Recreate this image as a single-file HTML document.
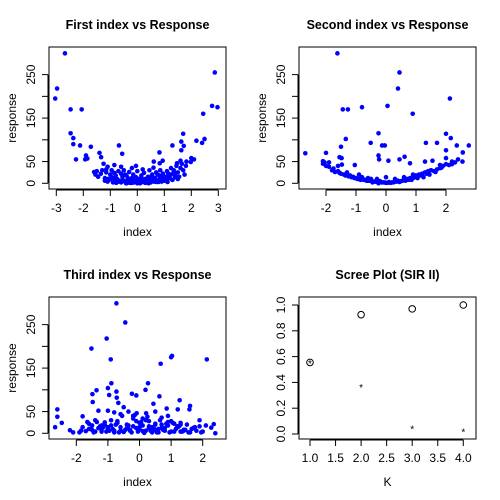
<!DOCTYPE html>
<html><head><meta charset="utf-8">
<style>
html,body{margin:0;padding:0;background:#fff;}
svg{display:block;font-family:"Liberation Sans",sans-serif;}
</style></head>
<body>
<svg id="chart" width="500" height="500" viewBox="0 0 500 500">
<rect width="500" height="500" fill="#fff"/>
</svg>
<script>
// ---- data: panel 1 (First index vs Response) ----
const p1x = [-2.68,-2.97,-3.04,-2.47,-2.06,-2.47,-2.37,-2.37,-2.12,-1.72,-2.27,-1.9,-1.85,-1.93,-1.4,-1.34,-0.68,-0.56,0.82,0.94,0.61,0.83,1.3,1.7,1.63,1.72,1.63,2.19,2.4,2.49,2.44,2.77,2.97,2.87,2.0,2.1,1.98,1.82,1.47,1.6,
 -1.6,-1.55,-1.5,-1.45,-1.3,-1.25,-1.2,-1.15,-1.1,-1.05,-1.0,-0.95,-0.9,-0.85,-0.8,-0.75,-0.7,-0.65,-0.6,-0.55,-0.5,-0.45,-0.4,-0.35,-0.3,-0.25,-0.2,-0.15,-0.1,-0.05,0,0.05,0.1,0.15,0.2,0.25,0.3,0.35,0.4,0.45,0.5,0.55,0.6,0.65,0.7,0.75,0.8,0.85,0.9,0.95,1.0,1.05,1.1,1.15,1.2,1.25,1.3,1.35,1.4,1.45,1.5,1.55,1.6,1.65,1.7,1.75,1.8,
 -1.2,-1.1,-1.0,-0.9,-0.8,-0.7,-0.6,-0.5,-0.4,-0.3,-0.2,-0.1,0,0.1,0.2,0.3,0.4,0.5,0.6,0.7,0.8,0.9,1.0,1.1,1.2,1.3,1.4,1.5,
 -0.95,-0.75,-0.55,-0.35,-0.15,0.05,0.25,0.45,0.65,0.85,1.05,1.25,-1.15,-0.85,-0.45,-0.25,0.15,0.35,0.55,0.75,0.95,1.15,1.35,-1.35,-0.2,0.0,0.2,-0.6,0.6,-0.05,
 -0.78,-0.42,-0.12,0.12,0.42,0.78,-0.62,-0.28,0.28,0.62,1.12,-1.08];
const p1y = [299,218,195,170,170,115,104,90,87,84,55,64,57,55,70,60,87,68,71,52,50,46,87,114,96,86,76,98,93,102,160,178,175,255,58,55,49,50,46,52,
 26,20,28,15,30,45,12,25,38,8,20,30,12,42,18,10,28,6,22,15,30,4,18,8,26,2,12,20,5,14,0,8,3,18,6,24,10,2,15,30,5,20,8,12,25,4,18,30,10,22,6,15,28,12,20,35,8,30,18,40,25,15,35,45,30,20,40,
 6,4,10,2,8,4,2,6,0,3,1,4,2,0,3,1,5,2,6,3,8,4,10,6,12,8,14,10,
 14,10,6,12,2,10,4,12,6,16,8,20,32,24,20,10,14,8,16,20,12,22,26,22,35,28,32,38,36,40,
 1,0,2,1,0,3,5,1,2,4,3,10];
// ---- data: panel 2 (Second index vs Response) ----
const p2x = [-1.62,0.45,0.4,2.13,-1.44,-1.27,-0.8,0.05,0.89,-0.25,-0.51,-0.13,-0.04,2.0,2.16,1.7,2.36,2.76,2.56,-2.69,-2.0,-1.5,-1.34,-1.55,-1.48,-0.25,-0.23,0.08,0.45,0.62,0.8,1.33,1.3,1.55,2.0,2.0,2.4,2.55,2.2,-2.05,-2.1,-1.9,-1.04,-1.47,
 -2.1,-2.0,-1.9,-1.8,-1.7,-1.6,-1.5,-1.4,-1.3,-1.2,-1.1,-1.0,-0.9,-0.8,-0.7,-0.6,-0.5,-0.4,-0.3,-0.2,-0.1,0,0.1,0.2,0.3,0.4,0.5,0.6,0.7,0.8,0.9,1.0,1.1,1.2,1.3,1.4,1.5,1.6,1.7,1.8,1.9,2.0,2.1,2.2,2.3,
 -1.75,-1.55,-1.35,-1.15,-0.95,-0.75,-0.55,-0.35,-0.15,0.05,0.25,0.45,0.65,0.85,1.05,1.25,1.45,1.65,1.85,
 -1.25,-1.05,-0.85,-0.65,-0.45,-0.25,-0.05,0.15,0.35,0.55,0.75,0.95,1.15,1.35,-0.6,-0.3,0,0.3,0.6,-0.9,0.9,-1.6,1.5,1.8];
const p2y = [299,255,218,195,170,170,175,178,160,115,93,87,87,114,104,93,87,87,71,69,70,84,102,60,58,64,55,52,55,61,46,93,50,52,76,58,55,50,44,48,51,48,42,43,
 45,40,38,30,26,28,22,20,25,18,15,12,10,14,8,6,10,4,3,5,2,1,3,2,4,6,5,8,10,12,12,18,20,22,25,28,30,28,32,35,40,44,42,50,48,
 34,24,18,14,10,8,6,4,2,1,2,3,6,8,12,14,20,26,36,
 16,12,8,6,2,0,2,1,4,6,8,14,18,22,12,10,14,10,14,20,20,40,30,42];
// ---- data: panel 3 (Third index vs Response) ----
const p3x = [-0.73,-0.45,-1.04,-1.52,-0.91,2.13,1.0,1.03,0.67,0.27,-0.89,-1.0,-1.36,-1.49,-0.73,-0.96,-0.72,-0.24,-0.1,0.19,0.63,1.27,0.44,-0.67,-1.48,1.6,1.58,-2.6,-2.6,-2.67,-2.46,-1.8,-1.3,-1.0,-0.5,-0.35,-0.09,0.21,0.5,0.86,1.21,1.9,2.4,2.27,2.35,-2.2,-2.1,
 -1.9,-1.8,-1.7,-1.6,-1.5,-1.4,-1.3,-1.2,-1.1,-1.0,-0.9,-0.8,-0.7,-0.6,-0.5,-0.4,-0.3,-0.2,-0.1,0,0.1,0.2,0.3,0.4,0.5,0.6,0.7,0.8,0.9,1.0,1.1,1.2,1.3,1.4,1.5,1.6,1.7,1.8,1.9,2.0,2.1,
 -1.85,-1.65,-1.45,-1.25,-1.05,-0.85,-0.65,-0.45,-0.25,-0.05,0.15,0.35,0.55,0.75,0.95,1.15,1.35,1.55,1.75,1.95,
 -1.55,-1.15,-0.75,-0.35,0.05,0.45,0.85,1.25,1.65,-1.35,-0.95,-0.55,-0.15,0.25,0.65,1.05,1.45,-0.6,-0.2,0.1,0.3,0.7,0.9,-0.8,1.3,-1.2,0.0,0.5,
 -1.6,-1.4,-1.2,-1.0,-0.8,-0.6,-0.4,-0.2,0,0.2,0.4,0.6,0.8,1.0,1.2,1.4,-1.5,-1.1,-0.7,-0.3,0.1,0.5,0.9,1.3,-0.5,-0.1,0.3,0.7,-0.9,1.1];
const p3y = [299,255,218,195,170,170,175,178,160,115,115,104,99,90,96,88,82,91,87,100,85,76,68,70,72,63,55,55,38,14,24,39,52,52,60,50,46,46,50,57,55,30,0,13,21,7,2,
 2,14,5,22,8,30,12,4,25,10,18,6,28,14,3,20,8,34,12,24,5,30,16,2,22,10,36,6,18,28,4,14,24,8,20,2,12,6,16,4,18,
 6,26,2,16,4,10,2,8,2,4,1,6,2,8,2,10,4,2,14,2,
 10,14,20,18,26,12,22,16,10,26,6,40,42,38,30,24,8,44,40,34,28,12,40,48,20,18,14,20,
 10,4,8,14,2,6,12,16,10,6,14,2,12,4,16,6,18,20,24,6,18,8,26,4,4,28,12,20,30,22];
// ---- data: panel 4 (Scree Plot) ----
const screeK = [1,2,3,4];
const screeCum = [0.555,0.925,0.97,1.0];
const screeVal = [0.555,0.37,0.045,0.025];

const svg = document.getElementById('chart');
const NS = 'http://www.w3.org/2000/svg';
function mk(tag, attrs, parent){ const e=document.createElementNS(NS,tag); for(const k in attrs) e.setAttribute(k,attrs[k]); (parent||svg).appendChild(e); return e; }

const BX0=49, BX1=226, BY0=47, BY1=189;

function panel(ox, oy, name, title, xlab, ylab, xs, ys, xticks, ytickAll, ylabels, ytickFmt){
  const g = mk('g',{transform:`translate(${ox},${oy})`});
  
  
  const t = mk('text',{x:137.5,y:29,'text-anchor':'middle','font-size':'12.5','font-weight':'bold',fill:'#000'},g);
  t.textContent = title;
  
  
  const box = mk('rect',{x:BX0,y:BY0,width:BX1-BX0,height:BY1-BY0,fill:'none',stroke:'#000','stroke-width':1},g);
  
  
  const xa = mk('g',{},g);
  
  
  mk('line',{x1:xs(xticks[0].v),x2:xs(xticks[xticks.length-1].v),y1:BY1+1,y2:BY1+1,stroke:'#000'},xa);
  xticks.forEach(tk=>{
    const x=xs(tk.v);
    mk('line',{x1:x,x2:x,y1:BY1+1,y2:BY1+7,stroke:'#000'},xa);
    const tx=mk('text',{x:x,y:212,'text-anchor':'middle','font-size':'12',fill:'#000'},xa);
    tx.textContent=tk.l;
    
    
  });
  const ya = mk('g',{},g);
  
  
  mk('line',{x1:BX0-1,x2:BX0-1,y1:ys(ytickAll[0]),y2:ys(ytickAll[ytickAll.length-1]),stroke:'#000'},ya);
  ytickAll.forEach(v=>{
    const y=ys(v);
    mk('line',{x1:BX0-7,x2:BX0-1,y1:y,y2:y,stroke:'#000'},ya);
  });
  ylabels.forEach(v=>{
    const y=ys(v);
    const tx=mk('text',{x:0,y:0,transform:`translate(35,${y}) rotate(-90)`,'text-anchor':'middle','font-size':'12',fill:'#000'},ya);
    tx.textContent=ytickFmt(v);
    
    
  });
  const xl=mk('text',{x:137.5,y:236,'text-anchor':'middle','font-size':'12',fill:'#000'},g);
  xl.textContent=xlab;
  
  
  const yl=mk('text',{x:0,y:0,transform:`translate(16,118) rotate(-90)`,'text-anchor':'middle','font-size':'12',fill:'#000'},g);
  yl.textContent=ylab;
  
  
  return g;
}

const respY = v => 183.3 - v*0.4347;
const respTicks=[0,50,100,150,200,250], respLabels=[0,50,150,250];

function scatter(ox,oy,name,title,xs,xv,yv,xt){
  const g=panel(ox,oy,name,title,'index','response',xs,respY,xt,respTicks,respLabels,v=>String(v));
  const pts=mk('g',{},g);
  
  
  for(let i=0;i<xv.length;i++){
    const c=mk('circle',{cx:xs(xv[i]),cy:respY(yv[i]),r:2.3,fill:'#0000ff'},pts);
    
    
  }
}
const tk = a => a.map(v=>({v:v,l:String(v)}));
scatter(0,0,'first-index-panel','First index vs Response', v=>137.3+27*v, p1x,p1y, tk([-3,-2,-1,0,1,2,3]));
scatter(250,0,'second-index-panel','Second index vs Response', v=>136+30*v, p2x,p2y, tk([-2,-1,0,1,2]));
scatter(0,250,'third-index-panel','Third index vs Response', v=>139.5+31.6*v, p3x,p3y, tk([-2,-1,0,1,2]));

const sx = v => 60 + (v-1)*51.1;
const sy = v => 184 - v*129;
const sg = panel(250,250,'scree-panel','Scree Plot (SIR II)','K','',sx,sy,
  [1,1.5,2,2.5,3,3.5,4].map(v=>({v:v,l:v.toFixed(1)})),[0,0.2,0.4,0.6,0.8,1.0],[0,0.2,0.4,0.6,0.8,1.0],v=>v.toFixed(1));
for(let i=0;i<screeK.length;i++){
  const c=mk('circle',{cx:sx(screeK[i]),cy:sy(screeCum[i]),r:3.3,fill:'none',stroke:'#000','stroke-width':1},sg);
  
  
  const s=mk('text',{x:sx(screeK[i]),y:sy(screeVal[i])+4.5,'text-anchor':'middle','font-size':'10',fill:'#000'},sg);
  s.textContent='*';
  
  
}
</script>
</body></html>
